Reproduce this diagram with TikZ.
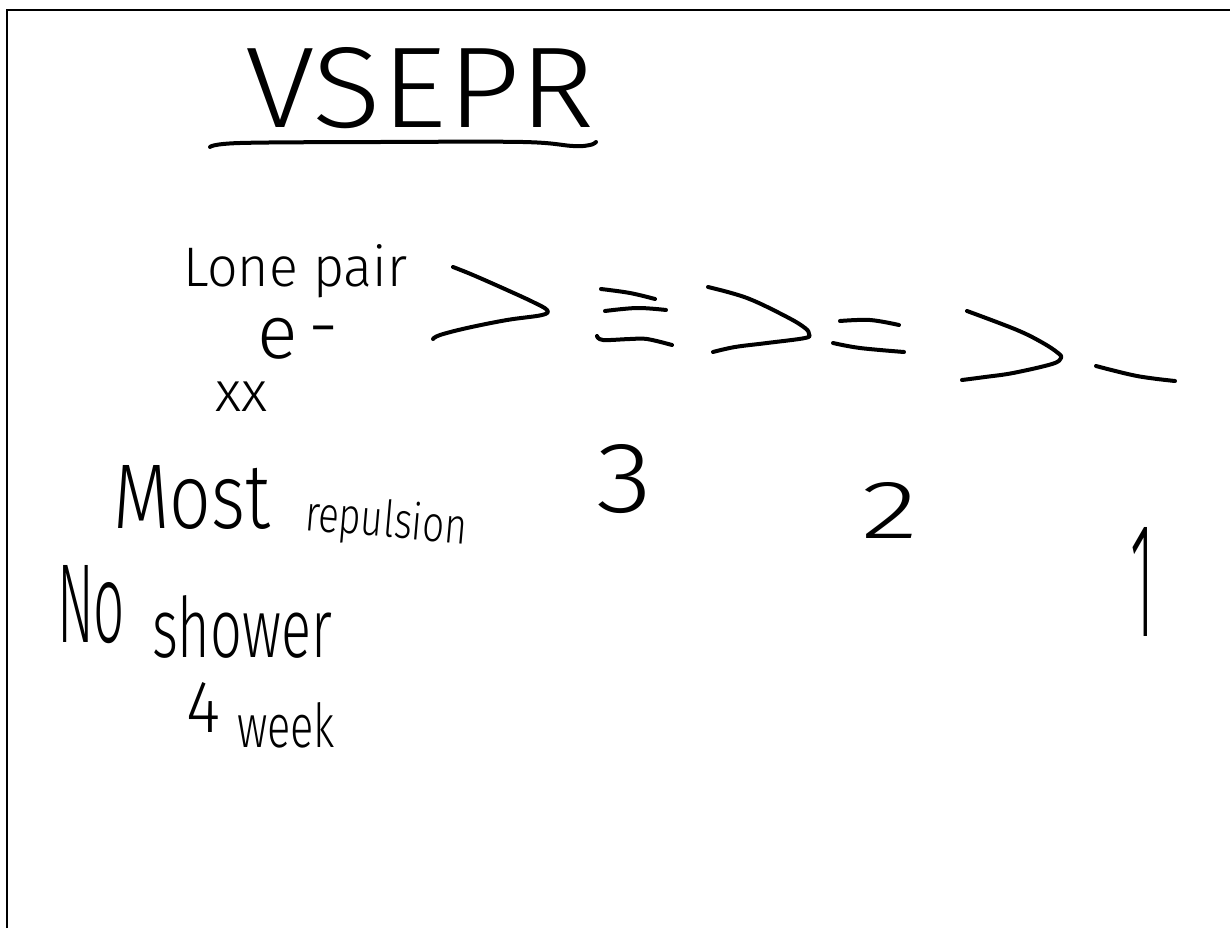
\documentclass[tikz,border=0pt]{standalone}
\usepackage{fontspec}
\usepackage{graphicx}
\newfontfamily\handfont{Fira Sans Light}
\tikzset{
  ink/.style={line width=3pt, line cap=round, line join=round},
  frameline/.style={line width=1.6pt},
  hw/.style={anchor=base west, inner sep=0pt, outer sep=0pt, font=\handfont},
}
\begin{document}
\begin{tikzpicture}[x=0.75pt,y=-0.75pt]
\useasboundingbox (0,0) rectangle (1230,928);
% frame
\draw[frameline] (7,928) -- (7,10) -- (1230,10);

% title
\node[hw] (title) at (245,127) {\resizebox{262.5pt}{60pt}{VSEPR}};
\draw[ink] plot[smooth, tension=0.6] coordinates {(210,147) (240,143) (380,142) (523,142) (573,146) (590,145) (596,142)};

% left labels
\node[hw] (lonepair) at (183,286) {\resizebox{168pt}{31.5pt}{Lone pair}};
\node[hw] (eminus) at (257,358) {\resizebox{61.5pt}{!}{e\kern0.15em\raisebox{0.08em}{-}}};
\node[hw] (xx) at (215,411) {\resizebox{39pt}{!}{xx}};
\node[hw] (most) at (113,528) {\resizebox{117.75pt}{47.25pt}{Most}};
\node[hw, rotate=-5] (repulsion) at (304,530) {\resizebox{121.5pt}{28.5pt}{repulsion}};
\node[hw] (no) at (57,642) {\resizebox{51pt}{57.75pt}{No}};
\node[hw] (shower) at (152,657) {\resizebox{135pt}{46.5pt}{shower}};
\node[hw] (four) at (186,732) {\resizebox{25.5pt}{37.5pt}{4}};
\node[hw] (week) at (237,747) {\resizebox{73.5pt}{33.75pt}{week}};

% ordering marks: > (triple) > (double) > (single)
\draw[ink] plot[smooth, tension=0.6] coordinates {(453,267) (473,275) (507,290) (533,302) (547,310) (542,315) (507,320) (467,328) (440,335) (433,339)};
\draw[ink] plot[smooth, tension=0.6] coordinates {(601,289) (630,293) (655,299)};
\draw[ink] plot[smooth, tension=0.6] coordinates {(605,311) (637,308) (666,310)};
\draw[ink] plot[smooth, tension=0.6] coordinates {(597,336) (603,340) (630,339) (647,339) (672,345)};
\draw[ink] plot[smooth, tension=0.6] coordinates {(708,287) (747,298) (787,317) (805,328) (809,334) (805,338) (767,343) (735,347) (713,352)};
\draw[ink] plot[smooth, tension=0.6] coordinates {(840,321) (870,320) (899,325)};
\draw[ink] plot[smooth, tension=0.6] coordinates {(833,343) (860,348) (904,352)};
\draw[ink] plot[smooth, tension=0.6] coordinates {(967,311) (1017,330) (1043,343) (1058,353) (1061,358) (1052,364) (1013,373) (985,377) (962,380)};
\draw[ink] plot[smooth, tension=0.6] coordinates {(1096,366) (1137,376) (1175,381)};

% counts
\node[hw] (three) at (596,512) {\resizebox{42pt}{51pt}{3}};
\node[hw] (two) at (861,538) {\resizebox{42.75pt}{42pt}{2}};
\node[hw] (one) at (1130,636) {\resizebox{18pt}{81.75pt}{1}};
\end{tikzpicture}
\end{document}
